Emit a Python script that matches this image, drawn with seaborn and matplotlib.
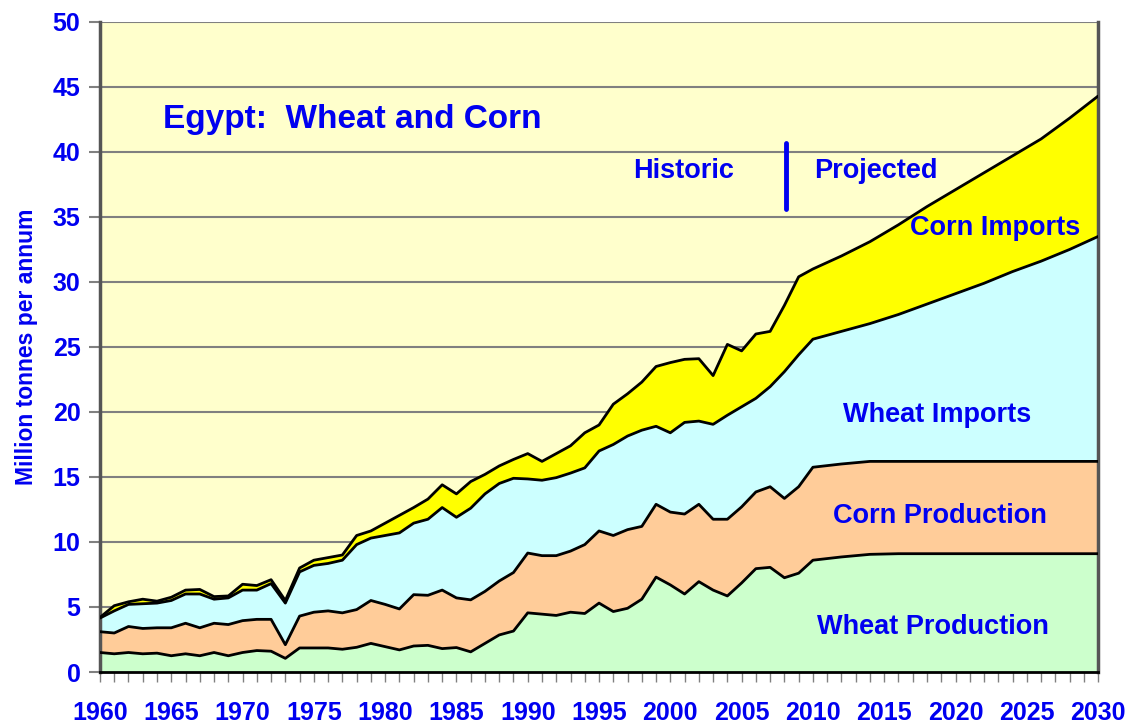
import pandas as pd
import matplotlib.pyplot as plt
import seaborn as sns

sns.set_style("white")
plt.rcParams['font.family'] = ['Liberation Sans', 'DejaVu Sans']

# years: historic 1960-2010, then read-off points of the projection
years = list(range(1960, 2011)) + [2012, 2014, 2016, 2018, 2020,
                                   2022, 2024, 2026, 2028, 2030]

# cumulative boundaries (million tonnes)
wheat_prod = [1.5, 1.4, 1.5, 1.4, 1.45, 1.25, 1.4, 1.25, 1.5, 1.25,
              1.5, 1.65, 1.6, 1.05, 1.85, 1.85, 1.85, 1.75, 1.9, 2.2,
              1.95, 1.7, 2.0, 2.05, 1.8, 1.88, 1.55, 2.2, 2.85, 3.15,
              4.55, 4.45, 4.35, 4.6, 4.5, 5.3, 4.65, 4.9, 5.6, 7.3,
              6.7, 6.0, 6.95, 6.3, 5.85, 6.85, 7.95, 8.05, 7.25, 7.6,
              8.6, 8.85, 9.05, 9.1, 9.1, 9.1, 9.1, 9.1, 9.1, 9.1, 9.1]
corn_prod_top = [3.1, 3.0, 3.5, 3.35, 3.4, 3.4, 3.75, 3.4, 3.75, 3.65,
                 3.95, 4.05, 4.05, 2.1, 4.3, 4.6, 4.7, 4.55, 4.8, 5.5,
                 5.2, 4.85, 5.95, 5.9, 6.3, 5.7, 5.55, 6.2, 7.0, 7.65,
                 9.15, 8.95, 8.95, 9.3, 9.8, 10.85, 10.5, 10.95, 11.2, 12.9,
                 12.3, 12.15, 12.9, 11.75, 11.75, 12.7, 13.85, 14.25, 13.35, 14.25,
                 15.75, 16.0, 16.2, 16.2, 16.2, 16.2, 16.2, 16.2, 16.2, 16.2, 16.2]
wheat_imp_top = [4.15, 4.7, 5.2, 5.25, 5.3, 5.5, 6.0, 6.0, 5.6, 5.7,
                 6.3, 6.3, 6.8, 5.3, 7.7, 8.2, 8.35, 8.6, 9.8, 10.3,
                 10.5, 10.7, 11.45, 11.75, 12.65, 11.9, 12.6, 13.7, 14.5, 14.9,
                 14.85, 14.75, 14.95, 15.3, 15.7, 17.0, 17.5, 18.15, 18.6, 18.9,
                 18.4, 19.2, 19.3, 19.05, 19.75, 20.4, 21.05, 21.95, 23.1, 24.4,
                 25.6, 26.2, 26.8, 27.5, 28.3, 29.1, 29.9, 30.8, 31.6, 32.5, 33.5]
corn_imp_top = [4.2, 5.1, 5.4, 5.6, 5.45, 5.75, 6.3, 6.35, 5.8, 5.85,
                6.75, 6.65, 7.1, 5.5, 8.0, 8.6, 8.8, 9.0, 10.5, 10.85,
                11.45, 12.05, 12.65, 13.3, 14.4, 13.7, 14.65, 15.2, 15.85, 16.35,
                16.8, 16.2, 16.8, 17.4, 18.4, 19.0, 20.6, 21.4, 22.3, 23.5,
                23.8, 24.05, 24.1, 22.8, 25.2, 24.7, 26.0, 26.2, 28.2, 30.4,
                31.0, 32.0, 33.1, 34.4, 35.8, 37.1, 38.4, 39.7, 41.0, 42.6, 44.3]

layer_cols = ["wheat_prod", "corn_prod_top", "wheat_imp_top", "corn_imp_top"]
layer_colors = ["#CCFFCC", "#FFCC99", "#CCFFFF", "#FFFF00"]
layer_names = ["Wheat Production", "Corn Production", "Wheat Imports", "Corn Imports"]

df = pd.DataFrame({"year": years, "wheat_prod": wheat_prod,
                   "corn_prod_top": corn_prod_top,
                   "wheat_imp_top": wheat_imp_top,
                   "corn_imp_top": corn_imp_top})
df["base"] = 0.0

blue = "#0000F0"

fig = plt.figure(figsize=(11.31, 7.25), dpi=100)
ax = fig.add_axes([0.0884, 0.0731, 0.8825, 0.8966])
ax.set_facecolor("#FFFFCC")

lower = "base"
for col, color in zip(layer_cols, layer_colors):
    ax.fill_between(df["year"], df[lower], df[col], color=color, lw=0, zorder=2)
    sns.lineplot(data=df, x="year", y=col, color="black", lw=2, ax=ax, zorder=3)
    lower = col

ax.set_xlim(1960, 2030)
ax.set_ylim(0, 50)
ax.set_xticks(range(1960, 2031, 5))
ax.set_xticks(range(1960, 2031), minor=True)
ax.set_yticks(range(0, 51, 5))
ax.yaxis.grid(True, color="#808080", lw=1.5)
ax.xaxis.grid(False)
ax.set_axisbelow(True)

ax.tick_params(axis="x", which="both", direction="out", length=7, width=1,
               color="#808080", bottom=True)
ax.tick_params(axis="x", which="major", labelsize=18, pad=14, labelcolor=blue)
ax.tick_params(axis="y", direction="out", length=8, width=1.5, color="#808080",
               left=True, labelsize=18, labelcolor=blue, pad=6)
for lab in ax.get_xticklabels() + ax.get_yticklabels():
    lab.set_fontweight("bold")

for side in ["left", "right"]:
    ax.spines[side].set_color("#555555")
    ax.spines[side].set_linewidth(2.5)
ax.spines["bottom"].set_color("black")
ax.spines["bottom"].set_linewidth(2)
ax.spines["top"].set_visible(False)

ax.set_xlabel("")
ax.set_ylabel("Million tonnes per annum", color=blue, fontsize=16.5,
              fontweight="bold")
ax.yaxis.set_label_coords(-0.062, 0.5)

ax.text(1964.4, 42.5, "Egypt:  Wheat and Corn", color=blue, fontsize=24,
        fontweight="bold", ha="left", va="center", zorder=5)
ax.text(2000.9, 38.5, "Historic", color=blue, fontsize=19.5, fontweight="bold",
        ha="center", va="center", zorder=5)
ax.text(2014.4, 38.5, "Projected", color=blue, fontsize=19.5, fontweight="bold",
        ha="center", va="center", zorder=5)
ax.plot([2008.1, 2008.1], [35.6, 40.7], color=blue, lw=3.5, zorder=5)

label_pos = [(2018.4, 3.46), (2018.9, 12.0), (2018.7, 19.8), (2022.8, 34.15)]
for name, (x, y) in zip(layer_names, label_pos):
    ax.text(x, y, name, color=blue, fontsize=19.5, fontweight="bold",
            ha="center", va="center", zorder=5)

fig.savefig("out.png", dpi=100)
